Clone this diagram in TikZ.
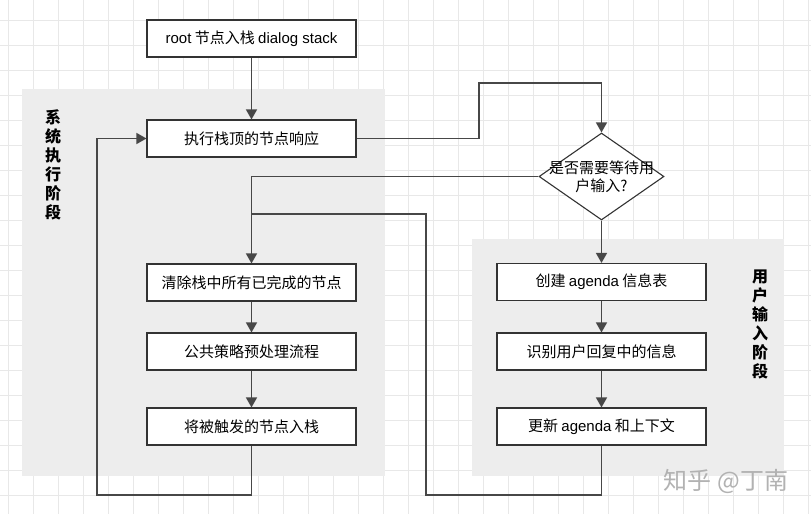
\documentclass[tikz,border=0pt]{standalone}
\usepackage{fontspec}
\setmainfont{Noto Sans CJK SC}
\newfontfamily\latin{Liberation Sans}
\usetikzlibrary{arrows.meta,shapes.geometric}

\tikzset{
  gridline/.style={draw=black!9, line width=0.6pt},
  panel/.style={fill=black!7},
  stepbox/.style={draw=black!80, fill=white, line width=1.1pt, minimum width=209pt, minimum height=37pt, inner sep=0pt, font=\fontsize{15}{18}\selectfont},
  decision/.style={draw=black!80, fill=white, line width=1.1pt, shape=diamond, minimum width=125pt, minimum height=87pt, inner sep=0pt},
  flow/.style={draw=black!72, line width=1.4pt, -{Triangle[length=10pt,width=11pt]}},
  link/.style={draw=black!72, line width=1.4pt},
  phase/.style={font=\fontsize{16}{19}\selectfont\bfseries, align=center},
}

\begin{document}
\begin{tikzpicture}[x=1pt,y=-1pt]
    \useasboundingbox (0,0) rectangle (811,514);
    \fill[white] (0,0) rectangle (811,514);
    % grid paper
    \foreach \gx in {8,33,...,808} {\draw[gridline] (\gx,0) -- (\gx,514);}
    \foreach \gy in {20,45,...,495} {\draw[gridline] (0,\gy) -- (811,\gy);}
    % phases
    \fill[panel] (22,89) rectangle (385,476);
    \fill[panel] (472,239) rectangle (784,476);
    \node[phase] (sysphase) at (53,164.5) {系\\统\\执\\行\\阶\\段};
    \node[phase] (userphase) at (760,324.5) {用\\户\\输\\入\\阶\\段};
    % steps
    \node[stepbox] (root) at (251.5,38.5) {{\latin root} 节点入栈 {\latin dialog stack}};
    \node[stepbox] (exec) at (251.5,138.5) {执行栈顶的节点响应};
    \node[stepbox] (clear) at (251.5,282.5) {清除栈中所有已完成的节点};
    \node[stepbox] (policy) at (251.5,351.5) {公共策略预处理流程};
    \node[stepbox] (push) at (251.5,426.5) {将被触发的节点入栈};
    \node[decision] (wait) at (601.5,176.5) {};
    \node[align=center, font=\fontsize{15}{18}\selectfont] (waittext) at (wait.center) {是否需要等待用\\户输入?};
    \node[stepbox] (agenda) at (601.5,282) {创建 {\latin agenda} 信息表};
    \node[stepbox] (parse) at (601.5,351.5) {识别用户回复中的信息};
    \node[stepbox] (update) at (601.5,426.5) {更新 {\latin agenda} 和上下文};
    % connectors
    \coordinate (up) at (479,83);
    \coordinate (loopL) at (97,495);
    \coordinate (loopR) at (426,495);
    \coordinate (merge) at (251.5,214);
    \draw[flow] (root) -- (exec);
    \draw[flow] (exec.east) -| (up) -| (wait.north);
    \draw[flow] (wait.west) -| (clear.north);
    \draw[flow] (wait.south) -- (agenda.north);
    \draw[flow] (clear) -- (policy);
    \draw[flow] (policy) -- (push);
    \draw[flow] (agenda) -- (parse);
    \draw[flow] (parse) -- (update);
    \draw[flow] (push.south) |- (loopL) |- (exec.west);
    \draw[link] (update.south) |- (loopR) |- (merge);
    % watermark
    \node[text=black!30, font=\fontsize{24}{27}\selectfont] (mark) at (726,481.5) {知乎 @丁南};
\end{tikzpicture}
\end{document}
